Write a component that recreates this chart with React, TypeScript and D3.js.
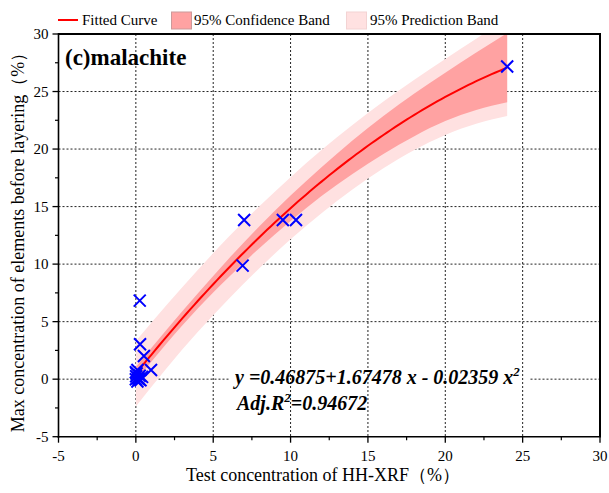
import React from 'react';
import * as d3 from 'd3';

const W = 609;
const H = 493;
const plot = { left: 58.5, right: 600, top: 34, bottom: 436.7 };

const xDomain: [number, number] = [-5, 30];
const yDomain: [number, number] = [-5, 30];
const xTicks = [-5, 0, 5, 10, 15, 20, 25, 30];
const yTicks = [-5, 0, 5, 10, 15, 20, 25, 30];
const xMinorTicks = [-2.5, 2.5, 7.5, 12.5, 17.5, 22.5, 27.5];
const yMinorTicks = [-2.5, 2.5, 7.5, 12.5, 17.5, 22.5, 27.5];
const gridValues = [0, 5, 10, 15, 20, 25];

// fitted model shown in the chart: y = a + b x + c x^2
const coef = [0.46875, 1.67478, -0.02359];
const fitRange: [number, number] = [0, 24];

// band half-widths
const bandX = [0, 2, 4, 6, 8, 10, 12, 14, 16, 18, 20, 22, 24];
const confHalf = [0.6, 0.6, 0.65, 0.8, 0.95, 1.1, 1.25, 1.45, 1.65, 1.85, 2.1, 2.5, 3.0];
const predHalf = [2.85, 2.75, 2.7, 2.7, 2.7, 2.7, 2.75, 2.8, 2.9, 3.05, 3.3, 3.7, 4.2];

// observed points
const pointsX = [24.0, 7.0, 9.5, 10.35, 6.9, 0.25, 0.27, 0.52, 0.98, 0.0, 0.05, 0.1, 0.15, 0.25, 0.3, 0.1, 0.4, 0.0, 0.2, 0.02];
const pointsY = [27.17, 13.84, 13.84, 13.84, 9.87, 6.83, 3.03, 2.02, 0.8, 0.0, 0.5, 0.8, 0.1, 0.3, -0.1, -0.2, 0.2, 0.6, 0.0, 0.25];

const legendLabels = ['Fitted Curve', '95% Confidence Band', '95% Prediction Band'];
const xTitle = 'Test concentration of HH-XRF（%）';
const yTitle = 'Max concentration of elements before layering（%）';
const panelLabel = '(c)malachite';

const serif = "'Liberation Serif', 'Times New Roman', Times, 'DejaVu Serif', serif";

const fit = (x: number) => coef[0] + coef[1] * x + coef[2] * x * x;

export default function App() {
  const xs = d3.scaleLinear().domain(xDomain).range([plot.left, plot.right]);
  const ys = d3.scaleLinear().domain(yDomain).range([plot.bottom, plot.top]);

  const bandData = bandX.map((x, i) => ({ x, c: confHalf[i], p: predHalf[i] }));
  const predArea = d3
    .area<{ x: number; c: number; p: number }>()
    .x((d) => xs(d.x))
    .y0((d) => ys(fit(d.x) - d.p))
    .y1((d) => ys(fit(d.x) + d.p))
    .curve(d3.curveMonotoneX);
  const confArea = d3
    .area<{ x: number; c: number; p: number }>()
    .x((d) => xs(d.x))
    .y0((d) => ys(fit(d.x) - d.c))
    .y1((d) => ys(fit(d.x) + d.c))
    .curve(d3.curveMonotoneX);

  const fitPts = d3.range(fitRange[0], fitRange[1] + 0.001, 0.25).map((x) => [x, fit(x)] as [number, number]);
  const fitLine = d3
    .line<[number, number]>()
    .x((d) => xs(d[0]))
    .y((d) => ys(d[1]));

  const cross = 6;
  const ts = { fontFamily: serif };

  return (
    <svg width={W} height={H} style={{ position: 'absolute', left: 0, top: 0, background: '#fff', fontFamily: serif }}>
      <defs>
        <clipPath id="plotClip">
          <rect x={plot.left} y={plot.top} width={plot.right - plot.left} height={plot.bottom - plot.top} />
        </clipPath>
      </defs>
      <rect x={0} y={0} width={W} height={H} fill="#fff" />

      {gridValues.map((v) => (
        <line key={'hg' + v} x1={plot.left} x2={plot.right} y1={ys(v)} y2={ys(v)} stroke="#222" strokeWidth={1} strokeDasharray="2,2" />
      ))}

      <rect x={230} y={364} width={300} height={48} fill="#fff" />

      {gridValues.map((v) => (
        <line key={'vg' + v} x1={xs(v)} x2={xs(v)} y1={plot.top} y2={plot.bottom} stroke="#222" strokeWidth={1} strokeDasharray="2,2" />
      ))}

      <g clipPath="url(#plotClip)">
        <path d={predArea(bandData) || ''} fill="#ffe1e1" />
        <path d={confArea(bandData) || ''} fill="#ffa2a2" />
        <path d={fitLine(fitPts) || ''} fill="none" stroke="#ff0000" strokeWidth={2} />
        {pointsX.map((x, i) => {
          const cx = xs(x);
          const cy = ys(pointsY[i]);
          return (
            <path
              key={'p' + i}
              d={`M${cx - cross},${cy - cross}L${cx + cross},${cy + cross}M${cx - cross},${cy + cross}L${cx + cross},${cy - cross}`}
              stroke="#0000ff"
              strokeWidth={2}
              fill="none"
            />
          );
        })}
      </g>

      <line x1={plot.left} x2={plot.right + 1} y1={plot.top} y2={plot.top} stroke="#000" strokeWidth={2} />
      <line x1={plot.right} x2={plot.right} y1={plot.top} y2={plot.bottom} stroke="#000" strokeWidth={2} />
      <line x1={plot.left} x2={plot.left} y1={plot.top - 1} y2={plot.bottom + 1} stroke="#000" strokeWidth={1.6} />
      <line x1={plot.left - 1} x2={plot.right + 1} y1={plot.bottom} y2={plot.bottom} stroke="#000" strokeWidth={1.6} />

      {xTicks.map((v) => (
        <g key={'xt' + v}>
          <line x1={xs(v)} x2={xs(v)} y1={plot.bottom} y2={plot.bottom + 6} stroke="#000" strokeWidth={1.3} />
          <text x={xs(v)} y={461} fontSize={15} textAnchor="middle" fill="#000" style={ts}>
            {v}
          </text>
        </g>
      ))}
      {xMinorTicks.map((v) => (
        <line key={'xm' + v} x1={xs(v)} x2={xs(v)} y1={plot.bottom} y2={plot.bottom + 3.5} stroke="#000" strokeWidth={1.2} />
      ))}

      {yTicks.map((v) => (
        <g key={'yt' + v}>
          <line x1={plot.left - 6} x2={plot.left} y1={ys(v)} y2={ys(v)} stroke="#000" strokeWidth={1.3} />
          <text x={plot.left - 10} y={ys(v) + 5} fontSize={15} textAnchor="end" fill="#000" style={ts}>
            {v}
          </text>
        </g>
      ))}
      {yMinorTicks.map((v) => (
        <line key={'ym' + v} x1={plot.left - 3.5} x2={plot.left} y1={ys(v)} y2={ys(v)} stroke="#000" strokeWidth={1.2} />
      ))}

      <text x={323} y={481} fontSize={18} textAnchor="middle" fill="#000" style={ts}>
        {xTitle}
      </text>
      <text transform={`translate(24,238) rotate(-90)`} fontSize={18} textAnchor="middle" fill="#000" style={ts}>
        {yTitle}
      </text>

      <text x={65} y={65} fontSize={23} fontWeight="bold" fill="#000" style={ts}>
        {panelLabel}
      </text>

      <text x={235} y={384} fontSize={20} fontWeight="bold" fontStyle="italic" fill="#000" style={ts}>
        y =0.46875+1.67478 x - 0.02359 x<tspan dy={-8} fontSize={13}>2</tspan>
      </text>
      <text x={237} y={410} fontSize={20} fontWeight="bold" fontStyle="italic" fill="#000" style={ts}>
        Adj.R<tspan dy={-8} fontSize={13}>2</tspan>
        <tspan dy={8}>=0.94672</tspan>
      </text>

      <line x1={58} x2={78} y1={20} y2={20} stroke="#ff0000" strokeWidth={2} />
      <text x={82} y={25} fontSize={15} fill="#000" style={ts}>
        {legendLabels[0]}
      </text>
      <rect x={171.5} y={12} width={20} height={17} fill="#ffa2a2" stroke="#c99" strokeWidth={1} />
      <text x={194} y={25} fontSize={15} fill="#000" style={ts}>
        {legendLabels[1]}
      </text>
      <rect x={346.5} y={12} width={20} height={17} fill="#ffe1e1" stroke="#f3d3d3" strokeWidth={1} />
      <text x={370} y={25} fontSize={15} fill="#000" style={ts}>
        {legendLabels[2]}
      </text>
    </svg>
  );
}
